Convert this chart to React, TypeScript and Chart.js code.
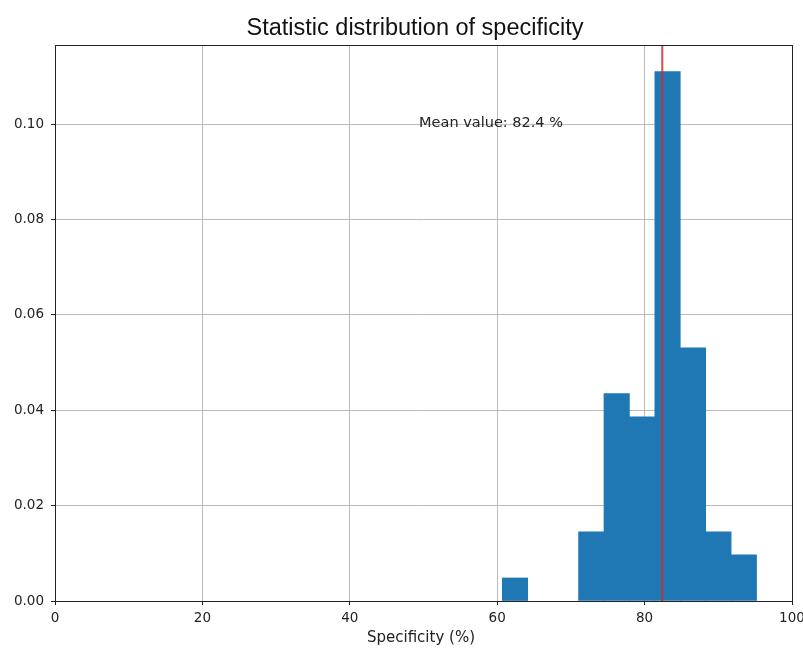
import React, { useEffect, useRef } from "react";
import { Chart, registerables } from "chart.js";

Chart.register(...registerables);

// ---- data ----
const binEdges = [60.69, 64.14, 67.59, 71.04, 74.49, 77.94, 81.39, 84.84, 88.29, 91.74, 95.19];
const density = [0.00483, 0, 0, 0.0145, 0.0435, 0.0386, 0.111, 0.0531, 0.0145, 0.00966];
const meanValue = 82.4;
const meanLabel = "Mean value: 82.4 %";
const meanLabelX = 49.4;
const meanLabelY = 0.1;
const xTicks = [0, 20, 40, 60, 80, 100];
const yTicks = [0, 0.02, 0.04, 0.06, 0.08, 0.1];
const titleText = "Statistic distribution of specificity";
const xAxisLabel = "Specificity (%)";

const W = 803;
const H = 648;
const BAR = "#1f77b4";

export default function App() {
  const ref = useRef<HTMLCanvasElement | null>(null);

  useEffect(() => {
    if (!ref.current) return;
    const points = density.map((v, i) => ({ x: (binEdges[i] + binEdges[i + 1]) / 2, y: v }));

    const overlay = {
      id: "overlay",
      afterDraw(chart: any) {
        const ctx = chart.ctx;
        const { left, right, top, bottom } = chart.chartArea;
        const xs = chart.scales.x;
        const ys = chart.scales.y;
        ctx.save();
        // mean line
        const mx = xs.getPixelForValue(meanValue);
        ctx.strokeStyle = "rgba(214,39,40,0.85)";
        ctx.lineWidth = 2;
        ctx.beginPath();
        ctx.moveTo(mx, top);
        ctx.lineTo(mx, bottom);
        ctx.stroke();
        // frame
        ctx.strokeStyle = "#222";
        ctx.lineWidth = 1;
        ctx.strokeRect(Math.round(left) + 0.5, Math.round(top) + 0.5, Math.round(right - left), Math.round(bottom - top));
        // mean text
        ctx.fillStyle = "#222";
        ctx.font = "14.5px 'DejaVu Sans'";
        ctx.textAlign = "left";
        ctx.textBaseline = "alphabetic";
        ctx.fillText(meanLabel, xs.getPixelForValue(meanLabelX), ys.getPixelForValue(meanLabelY) + 3);
        // title
        ctx.font = "23.5px 'Liberation Sans'";
        ctx.textAlign = "center";
        ctx.textBaseline = "alphabetic";
        ctx.fillStyle = "#111";
        ctx.fillText(titleText, 415, 35);
        // x label
        ctx.font = "15px 'DejaVu Sans'";
        ctx.fillStyle = "#222";
        ctx.textBaseline = "alphabetic";
        ctx.fillText(xAxisLabel, 421, 642);
        ctx.restore();
      },
    };

    const chart = new Chart(ref.current, {
      type: "bar",
      data: {
        datasets: [
          {
            data: points as any,
            backgroundColor: (c: any) => (c.raw && c.raw.y === 0 ? "rgba(0,0,0,0)" : BAR),
            borderWidth: 0,
            barPercentage: 1,
            categoryPercentage: 1,
          },
        ],
      },
      options: {
        animation: false,
        responsive: false,
        maintainAspectRatio: false,
        layout: { padding: { left: 0, right: 11, top: 45, bottom: 0 } },
        plugins: {
          legend: { display: false },
          tooltip: { enabled: false },
          title: { display: false },
        },
        scales: {
          x: {
            type: "linear",
            min: 0,
            max: 100,
            z: 1,
            offset: false,
            afterBuildTicks: (s: any) => {
              s.ticks = xTicks.map((v) => ({ value: v }));
            },
            afterFit: (s: any) => {
              s.height = 47;
              s.paddingLeft = 0;
              s.paddingRight = 0;
            },
            grid: {
              offset: false,
              color: "rgba(176,176,176,0.85)",
              lineWidth: 1,
              tickLength: 4,
              tickColor: "#222",
              drawTicks: true,
            },
            border: { display: false },
            ticks: {
              color: "#222",
              font: { family: "'DejaVu Sans'", size: 13.5 },
              padding: 5,
              maxRotation: 0,
              callback: (v: any) => String(v),
            },
          },
          y: {
            type: "linear",
            min: 0,
            max: 0.1166,
            z: 1,
            afterBuildTicks: (s: any) => {
              s.ticks = yTicks.map((v) => ({ value: v }));
            },
            afterFit: (s: any) => {
              s.width = 55;
              s.paddingTop = 0;
              s.paddingBottom = 0;
            },
            grid: {
              color: "rgba(176,176,176,0.85)",
              lineWidth: 1,
              tickLength: 4,
              tickColor: "#222",
            },
            border: { display: false },
            ticks: {
              color: "#222",
              font: { family: "'DejaVu Sans'", size: 13.5 },
              padding: 7,
              callback: (v: any) => Number(v).toFixed(2),
            },
          },
        },
      },
      plugins: [overlay],
    } as any);

    return () => chart.destroy();
  }, []);

  return (
    <div style={{ position: "fixed", left: 0, top: 0, width: W, height: H, background: "#fff" }}>
      <canvas ref={ref} width={W} height={H} style={{ width: W, height: H, display: "block" }} />
    </div>
  );
}
